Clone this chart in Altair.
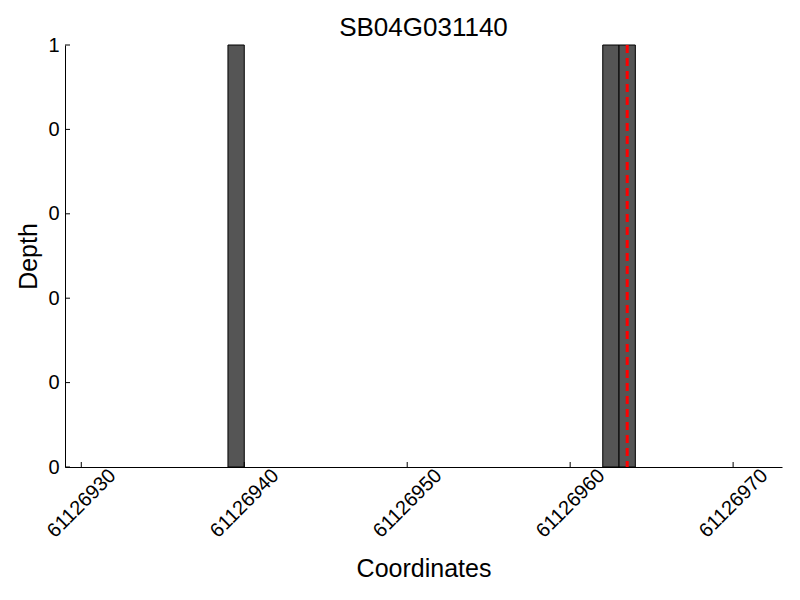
import altair as alt
import pandas as pd

# data
bar_starts = [61126939, 61126962, 61126963]
bar_depths = [1, 1, 1]
bar_width = 1
marker_pos = [61126963.5]
x_ticks = [61126930, 61126940, 61126950, 61126960, 61126970]
y_ticks = [0, 0.2, 0.4, 0.6, 0.8, 1.0]
x_domain = [61126929, 61126973]
y_domain = [0, 1]

W, H = 717, 422
FONT = "Liberation Sans"

bars = pd.DataFrame({
    "start": bar_starts,
    "end": [s + bar_width for s in bar_starts],
    "depth": bar_depths,
})
xs = alt.Scale(domain=x_domain, nice=False, zero=False)
ys = alt.Scale(domain=y_domain, nice=False)

x_axis = alt.Axis(values=x_ticks, format="d", labelAngle=-45, labelAlign="center",
                  labelBaseline="middle", labelFontSize=20, labelFont=FONT,
                  labelColor="black", title="Coordinates", titleFont=FONT,
                  titleFontSize=25, titleFontWeight="normal", titleColor="black",
                  titlePadding=15, ticks=False, labelPadding=36, domainColor="black",
                  grid=False, labelOverlap=False, labelFlush=False)
y_axis = alt.Axis(values=y_ticks, labelExpr="'' + floor(datum.value)", labelFontSize=20,
                  labelFont=FONT, labelColor="black", title="Depth", titleFont=FONT,
                  titleFontSize=25, titleFontWeight="normal", titleColor="black",
                  titlePadding=6, ticks=False, labelPadding=6, domainColor="black",
                  grid=False, labelOverlap=False, labelFlush=False)

rects = alt.Chart(bars).mark_rect(color="#555555", stroke="black", strokeWidth=1).encode(
    x=alt.X("start:Q", scale=xs, axis=x_axis),
    x2="end:Q",
    y=alt.Y("depth:Q", scale=ys, axis=y_axis),
    y2=alt.datum(0),
)

vline = alt.Chart(pd.DataFrame({"pos": marker_pos})).mark_rule(
    color="red", strokeWidth=3, strokeDash=[8, 5]
).encode(x=alt.X("pos:Q", scale=xs), y=alt.value(0), y2=alt.value(H))

xt = alt.Chart(pd.DataFrame({"t": x_ticks})).mark_rule(color="black", strokeWidth=1).encode(
    x=alt.X("t:Q", scale=xs), y=alt.value(H), y2=alt.value(H - 5)
)
yt = alt.Chart(pd.DataFrame({"t": y_ticks})).mark_rule(color="black", strokeWidth=1).encode(
    y=alt.Y("t:Q", scale=ys), x=alt.value(0), x2=alt.value(5)
)

chart = alt.layer(rects, vline, xt, yt).properties(
    width=W, height=H,
    background="white",
    title=alt.TitleParams("SB04G031140", font=FONT, fontSize=26, fontWeight="normal",
                          color="black", anchor="middle", offset=2, dy=8),
    autosize=alt.AutoSizeParams(type="none"),
    padding={"left": 57, "top": 37, "right": 10, "bottom": 120},
).configure_view(stroke=None)

chart.save("out.html", embed_options={"renderer": "svg", "actions": False})
